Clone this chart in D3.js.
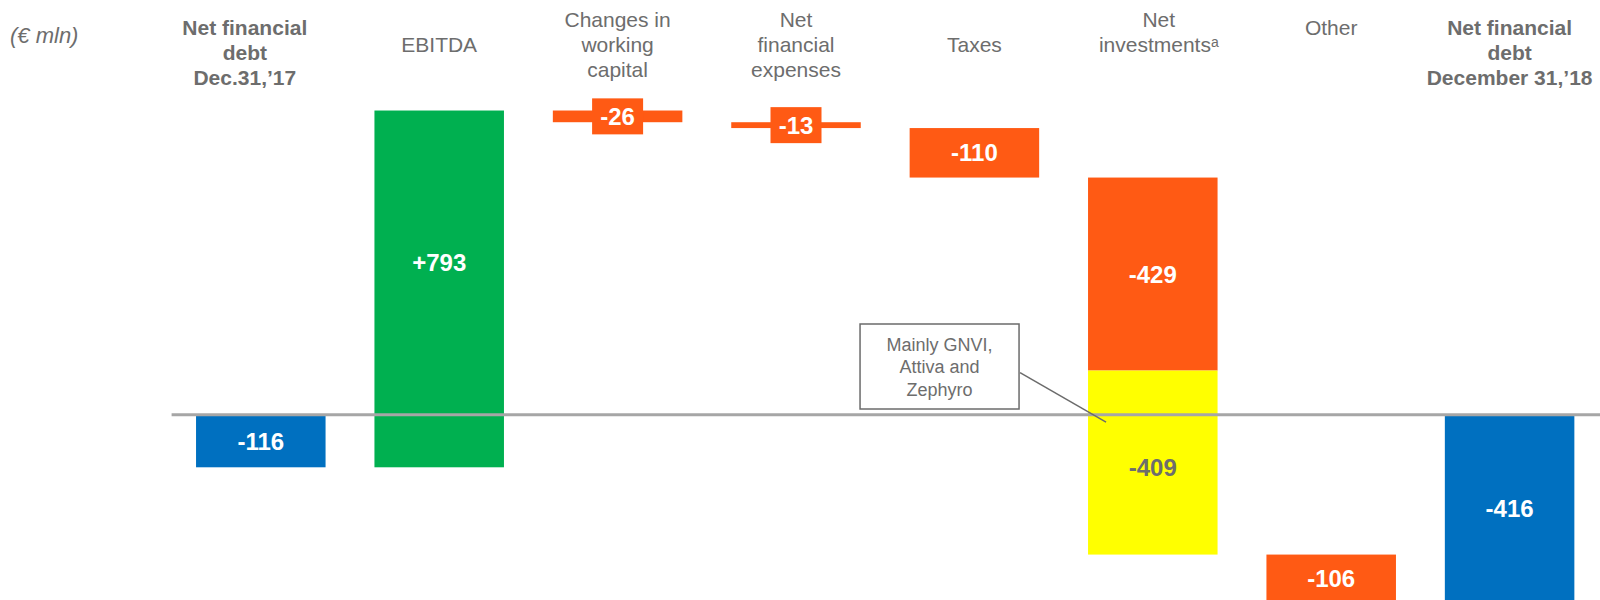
<!DOCTYPE html>
<html>
<head>
<meta charset="utf-8">
<script src="https://cdn.jsdelivr.net/npm/d3@7"></script>
<style>
  html, body { margin: 0; padding: 0; background: #fff; }
  svg { display: block; font-family: "Liberation Sans", Arial, sans-serif; }
</style>
</head>
<body>
<svg id="chart" width="1600" height="600"></svg>
<script>
'use strict';

// categories along the x axis
var categories = ['debt17', 'ebitda', 'wc', 'nfe', 'taxes', 'netinv', 'other', 'debt18'];

var categoryLines = [
  ['Net financial', 'debt', 'Dec.31,\u201917'],
  ['EBITDA'],
  ['Changes in', 'working', 'capital'],
  ['Net', 'financial', 'expenses'],
  ['Taxes'],
  ['Net', 'investments'],
  ['Other'],
  ['Net financial', 'debt', 'December 31,\u201918']
];

// waterfall segments (net investments is split in two)
var segCategory = ['debt17', 'ebitda', 'wc', 'nfe', 'taxes', 'netinv', 'netinv', 'other', 'debt18'];
var segValue    = [-116, 793, -26, -13, -110, -429, -409, -106, -416];
var segKind     = ['total', 'up', 'down', 'down', 'down', 'down', 'acq', 'down', 'total'];

var unitLabel   = '(\u20ac mln)';
var calloutText = ['Mainly GNVI,', 'Attiva and', 'Zephyro'];

var colormap = {
  total: '#0070c0',
  up:    '#00b050',
  down:  '#ff5a14',
  acq:   '#ffff00'
};
var grey = '#6d6d6d';

function color(kind) {
  return colormap[kind] || '#ff0000';
}

var svg = d3.select('#chart');

var x = d3.scaleBand()
  .domain(categories)
  .range([171.6, 1598.8])
  .paddingInner(0.274)
  .paddingOuter(0.137);

var y = d3.scaleLinear()
  .domain([-400, 800])
  .range([595.06, 55.18]);

// running totals
var running = 0;
var segs = segValue.map(function (v, i) {
  var start = segKind[i] === 'total' ? 0 : running;
  var end = start + v;
  running = end;
  return { cat: segCategory[i], value: v, kind: segKind[i], start: start, end: end };
});

// bars
svg.append('g').attr('class', 'bars')
  .selectAll('rect')
  .data(segs)
  .enter().append('rect')
    .attr('x', function (d) { return x(d.cat); })
    .attr('width', x.bandwidth())
    .attr('y', function (d) { return y(Math.max(d.start, d.end)); })
    .attr('height', function (d) { return Math.abs(y(d.start) - y(d.end)); })
    .attr('fill', function (d) { return color(d.kind); });

// zero line on top of the bars
svg.append('line')
  .attr('x1', x.range()[0]).attr('x2', 1600)
  .attr('y1', y(0) - 0.3).attr('y2', y(0) - 0.3)
  .attr('stroke', '#a6a6a6')
  .attr('stroke-width', 3);

// value labels
function labelText(d) {
  return d.value > 0 ? '+' + d.value : String(d.value);
}
function labelY(d) {
  if (d.kind === 'up') return (y(d.end) + y(0)) / 2; // centred on part above zero
  if (d.kind === 'acq') return (y(d.start) + y(d.end)) / 2 + 5;
  return (y(d.start) + y(d.end)) / 2;
}

var vals = svg.append('g').attr('class', 'values')
  .selectAll('g')
  .data(segs)
  .enter().append('g')
    .attr('transform', function (d) {
      return 'translate(' + (x(d.cat) + x.bandwidth() / 2) + ',' + labelY(d) + ')';
    });

vals.filter(function (d) { return Math.abs(y(d.start) - y(d.end)) < 30; })
  .append('rect')
    .attr('x', -25.5).attr('y', -18)
    .attr('width', 51).attr('height', 36)
    .attr('fill', function (d) { return color(d.kind); });

vals.append('text')
  .attr('text-anchor', 'middle')
  .attr('dy', '0.36em')
  .attr('font-size', 24)
  .attr('font-weight', 'bold')
  .attr('fill', function (d) { return d.kind === 'acq' ? grey : '#fff'; })
  .text(labelText);

// category headers
var labelShift  = { other: -17 };
var labelShiftX = { debt17: -16, netinv: 6 };
var heads = svg.append('g').attr('class', 'heads')
  .selectAll('text')
  .data(categories)
  .enter().append('text')
    .attr('text-anchor', 'middle')
    .attr('font-size', 21)
    .attr('fill', grey)
    .attr('font-weight', function (d) { return d.indexOf('debt') === 0 ? 'bold' : 'normal'; })
    .attr('transform', function (d, i) {
      var n = categoryLines[i].length;
      var bold = d.indexOf('debt') === 0;
      var top = bold ? 35 : (n === 1 ? 52 : 27);
      top += labelShift[d] || 0;
      var cx = x(d) + x.bandwidth() / 2 + (labelShiftX[d] || 0);
      return 'translate(' + cx + ',' + top + ')';
    });

heads.each(function (d, i) {
  var t = d3.select(this);
  categoryLines[i].forEach(function (line, j) {
    t.append('tspan').attr('x', 0).attr('y', j * 25).text(line);
    if (d === 'netinv' && j === categoryLines[i].length - 1) {
      t.append('tspan').attr('dy', -5).attr('font-size', 14).text('a');
    }
  });
});

// unit
svg.append('text')
  .attr('x', 10).attr('y', 43)
  .attr('font-size', 22)
  .attr('font-style', 'italic')
  .attr('fill', grey)
  .text(unitLabel);

// callout
var bx = x('netinv') - 228, by = 324, bw = 159, bh = 85;
svg.append('line')
  .attr('x1', bx + bw + 1).attr('y1', by + 48.7)
  .attr('x2', x('netinv') + 18).attr('y2', y(0) + 7)
  .attr('stroke', '#6b6b6b').attr('stroke-width', 1.5);
svg.append('rect')
  .attr('x', bx).attr('y', by)
  .attr('width', bw).attr('height', bh)
  .attr('fill', '#fff')
  .attr('stroke', '#6b6b6b').attr('stroke-width', 1.5);
svg.append('text')
  .attr('text-anchor', 'middle')
  .attr('font-size', 18)
  .attr('fill', grey)
  .selectAll('tspan')
  .data(calloutText)
  .enter().append('tspan')
    .attr('x', bx + bw / 2)
    .attr('y', function (d, i) { return by + 26.8 + i * 22.5; })
    .text(function (d) { return d; });
</script>
</body>
</html>
